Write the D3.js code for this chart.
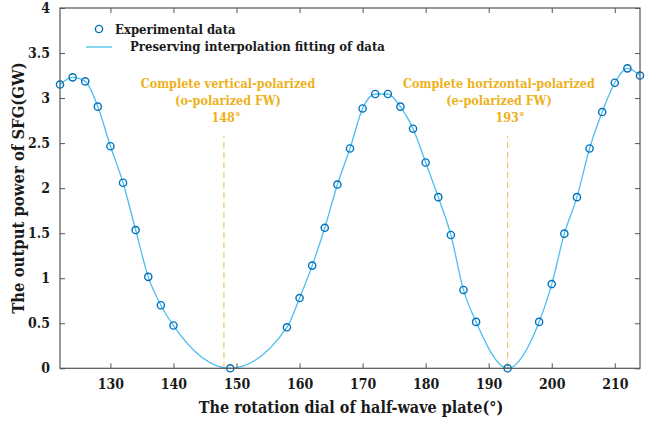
<!DOCTYPE html>
<html><head><meta charset="utf-8">
<script src="https://cdn.jsdelivr.net/npm/d3@7"></script>
<style>body{margin:0;background:#fff}svg{display:block}</style>
</head><body><svg id="c" width="645" height="423"></svg>
<script>
const angles = [122,124,126,128,130,132,134,136,138,140,149,158,160,162,164,166,168,170,172,174,176,178,180,182,184,186,188,193,198,200,202,204,206,208,210,212,214];
const power  = [3.15,3.23,3.185,2.905,2.465,2.06,1.535,1.015,0.70,0.475,0.0,0.455,0.78,1.14,1.56,2.04,2.44,2.885,3.045,3.045,2.905,2.66,2.285,1.90,1.48,0.87,0.515,0.0,0.515,0.935,1.495,1.90,2.44,2.845,3.17,3.33,3.25];
const xTicks = [130,140,150,160,170,180,190,200,210];
const yTicks = [0,0.5,1,1.5,2,2.5,3,3.5,4];
const yTickLabels = ["0","0.5","1","1.5","2","2.5","3","3.5","4"];
const markAngles = [148,193];
const markTop = 2.58;
const annoLeft = ["Complete vertical-polarized","(o-polarized FW)","148°"];
const annoRight = ["Complete horizontal-polarized","(e-polarized FW)","193°"];
const legendLabels = ["Experimental data","Preserving interpolation fitting of data"];

const FONT = "'DejaVu Serif Condensed','DejaVu Serif',serif";
const svg = d3.select("#c");
const L=60,R=640,T=8,B=368.3;
const x = d3.scaleLinear().domain([122,214]).range([L,R]);
const y = d3.scaleLinear().domain([0,4]).range([B,T]);
const axisCol="#555", txtCol="#1a1a1a";
const orange="#EDB120", lineBlue="#4DBEEE", markBlue="#0072BD";
const data = angles.map((a,i)=>({a, v:power[i]}));
const txt = (sel,size)=>sel.attr("font-family",FONT).attr("font-weight","bold").attr("font-size",size);

svg.selectAll(".mk").data(markAngles).join("line")
  .attr("x1",d=>x(d)).attr("x2",d=>x(d)).attr("y1",y(0)).attr("y2",y(markTop))
  .attr("stroke","#F3C466").attr("stroke-width",1.2).attr("stroke-dasharray","6,4");

svg.append("path").datum(data)
  .attr("d",d3.line().x(d=>x(d.a)).y(d=>y(d.v)).curve(d3.curveMonotoneX))
  .attr("fill","none").attr("stroke",lineBlue).attr("stroke-width",1.3);

svg.selectAll(".pt").data(data).join("circle")
  .attr("cx",d=>x(d.a)).attr("cy",d=>y(d.v)).attr("r",3.6)
  .attr("fill","none").attr("stroke",markBlue).attr("stroke-width",1.4);

const ax = (g)=>{g.attr("font-family",FONT).attr("font-size",14).attr("font-weight","bold");
  g.select(".domain").remove(); g.selectAll("line").attr("stroke",axisCol);
  g.selectAll("text").attr("fill",txtCol);};
svg.append("g").attr("transform",`translate(0,${B})`)
  .call(d3.axisBottom(x).tickValues(xTicks).tickSizeInner(-5).tickSizeOuter(0).tickPadding(11))
  .call(ax);
svg.append("g").attr("transform",`translate(0,${T})`)
  .call(d3.axisTop(x).tickValues(xTicks).tickSizeInner(-5).tickSizeOuter(0).tickFormat(""))
  .call(ax);
svg.append("g").attr("transform",`translate(${L},0)`)
  .call(d3.axisLeft(y).tickValues(yTicks).tickSizeInner(-5).tickSizeOuter(0).tickPadding(10).tickFormat((d,i)=>yTickLabels[i]))
  .call(ax);
svg.append("g").attr("transform",`translate(${R},0)`)
  .call(d3.axisRight(y).tickValues(yTicks).tickSizeInner(-5).tickSizeOuter(0).tickFormat(""))
  .call(ax);
svg.append("rect").attr("x",L).attr("y",T).attr("width",R-L).attr("height",B-T)
  .attr("fill","none").attr("stroke",axisCol).attr("stroke-width",1.2);

const anno=(lines,cx,cx3)=>{
  lines.forEach((t,i)=>svg.append("text").attr("x",i<2?cx:cx3).attr("y",88+i*17)
    .attr("text-anchor","middle").attr("fill",orange).call(txt,12.5).text(t));
};
anno(annoLeft,228,226);
anno(annoRight,499,510);

svg.append("circle").attr("cx",99).attr("cy",29).attr("r",3.6).attr("fill","none").attr("stroke",markBlue).attr("stroke-width",1.4);
svg.append("text").attr("x",115).attr("y",34).call(txt,13).attr("fill",txtCol).text(legendLabels[0]);
svg.append("line").attr("x1",86).attr("x2",112).attr("y1",47).attr("y2",47).attr("stroke",lineBlue).attr("stroke-width",1.3);
svg.append("text").attr("x",130).attr("y",51).call(txt,13).attr("fill",txtCol).text(legendLabels[1]);

svg.append("text").attr("x",351).attr("y",413).attr("text-anchor","middle").call(txt,16).attr("fill",txtCol)
  .text("The rotation dial of half-wave plate(°)");
svg.append("text").attr("transform","translate(24,188) rotate(-90)").attr("text-anchor","middle").call(txt,16.5).attr("fill",txtCol)
  .text("The output power of SFG(GW)");
</script></body></html>
